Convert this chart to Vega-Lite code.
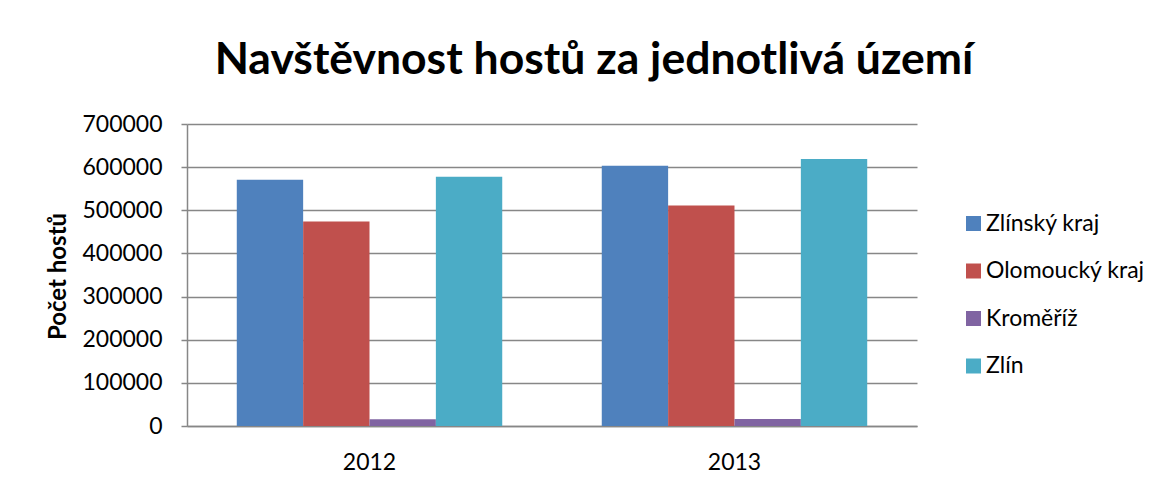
{
  "$schema": "https://vega.github.io/schema/vega-lite/v6.json",
  "width": 730,
  "height": 302,
  "autosize": {"type": "none"},
  "padding": {"left": 187, "top": 124, "right": 251, "bottom": 61},
  "background": "white",
  "title": {
    "text": "Navštěvnost hostů za jednotlivá území",
    "font": "Lato",
    "fontSize": 44.5,
    "fontWeight": "bold",
    "color": "#000000",
    "anchor": "middle",
    "dx": 42,
    "offset": 30
  },
  "data": {
    "values": [
      {"rok": "2012", "uzemi": "Zlínský kraj", "hoste": 571000},
      {"rok": "2012", "uzemi": "Olomoucký kraj", "hoste": 474000},
      {"rok": "2012", "uzemi": "Kroměříž", "hoste": 15500},
      {"rok": "2012", "uzemi": "Zlín", "hoste": 578000},
      {"rok": "2013", "uzemi": "Zlínský kraj", "hoste": 603000},
      {"rok": "2013", "uzemi": "Olomoucký kraj", "hoste": 511000},
      {"rok": "2013", "uzemi": "Kroměříž", "hoste": 16000},
      {"rok": "2013", "uzemi": "Zlín", "hoste": 619000}
    ]
  },
  "mark": {"type": "bar"},
  "encoding": {
    "x": {
      "field": "rok",
      "type": "nominal",
      "scale": {"paddingInner": 0.2727, "paddingOuter": 0.1364},
      "axis": {
        "title": null,
        "labelAngle": 0,
        "labelFont": "Lato",
        "labelFontSize": 23,
        "labelColor": "#000000",
        "labelPadding": 25,
        "ticks": false,
        "domainColor": "#878787",
        "domainWidth": 1.5
      }
    },
    "xOffset": {
      "field": "uzemi",
      "type": "nominal",
      "sort": ["Zlínský kraj", "Olomoucký kraj", "Kroměříž", "Zlín"],
      "scale": {"paddingInner": 0, "paddingOuter": 0}
    },
    "y": {
      "field": "hoste",
      "type": "quantitative",
      "scale": {"domain": [0, 700000], "nice": false},
      "axis": {
        "title": "Počet hostů",
        "titleFont": "Lato",
        "titleFontSize": 24,
        "titleFontWeight": "bold",
        "titleColor": "#000000",
        "titleX": -129,
        "titleY": 152,
        "titleAngle": -90,
        "titleAlign": "center",
        "titleBaseline": "middle",
        "values": [0, 100000, 200000, 300000, 400000, 500000, 600000, 700000],
        "format": "d",
        "labelFont": "Lato",
        "labelFontSize": 23,
        "labelColor": "#000000",
        "labelPadding": 19,
        "tickSize": 6,
        "tickColor": "#878787",
        "tickWidth": 1.5,
        "domainColor": "#878787",
        "domainWidth": 1.5,
        "grid": true,
        "gridColor": "#878787",
        "gridWidth": 1.5
      }
    },
    "color": {
      "field": "uzemi",
      "type": "nominal",
      "sort": ["Zlínský kraj", "Olomoucký kraj", "Kroměříž", "Zlín"],
      "scale": {
        "domain": ["Zlínský kraj", "Olomoucký kraj", "Kroměříž", "Zlín"],
        "range": ["#4F81BD", "#C0504D", "#8064A2", "#4BACC6"]
      },
      "legend": {
        "title": null,
        "orient": "none",
        "legendX": 775,
        "legendY": 88,
        "symbolType": "square",
        "symbolSize": 225,
        "symbolStrokeWidth": 0,
        "labelFont": "Lato",
        "labelFontSize": 23,
        "labelColor": "#000000",
        "labelOffset": 1,
        "rowPadding": 23.5
      }
    }
  },
  "config": {
    "view": {"stroke": null}
  }
}
